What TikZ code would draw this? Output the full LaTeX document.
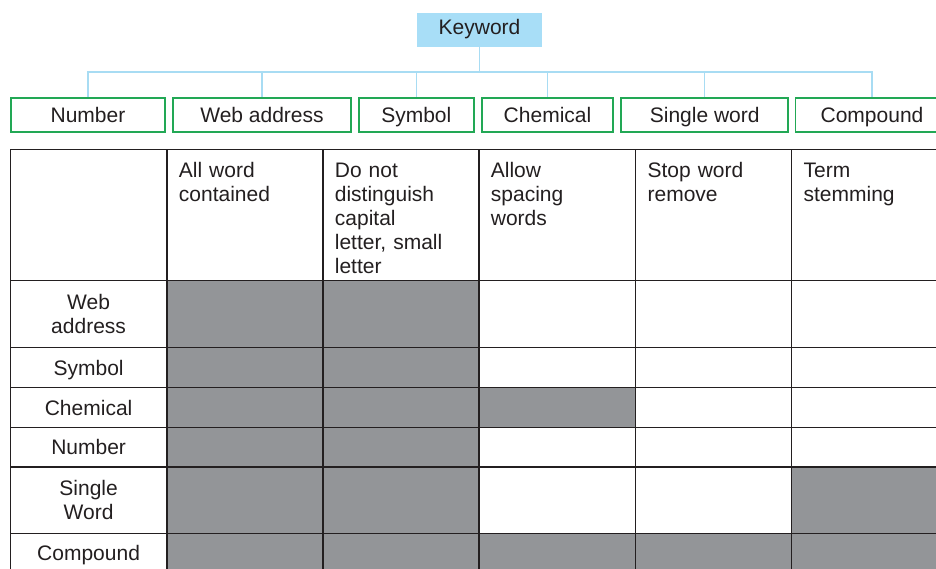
\documentclass[tikz,border=0pt]{standalone}
\usepackage{fontspec}
\setmainfont{Liberation Sans}
\definecolor{ink}{HTML}{231F20}
\definecolor{kwfill}{HTML}{A8DEF7}
\definecolor{linkblue}{HTML}{A8DCF3}
\definecolor{boxgreen}{HTML}{22A855}
\definecolor{cellgrey}{HTML}{939598}
\begin{document}
\begin{tikzpicture}[x=1pt,y=-1pt,
  txt/.style={font=\fontsize{21}{24}\selectfont, text=ink, inner sep=0pt},
  kwbox/.style={txt, fill=kwfill, minimum width=125pt, minimum height=33.7pt,
    text height=15pt, text depth=5pt},
  catbox/.style={txt, draw=boxgreen, line width=1.5pt, minimum height=33.6pt,
    text height=17pt, text depth=2pt},
  link/.style={draw=linkblue, line width=1.5pt},
  grid/.style={draw=ink, line width=1.3pt},
  shade/.style={fill=cellgrey},
  headtxt/.style={txt, anchor=north west, text width=140pt, align=left},
  rowtxt/.style={txt, align=center},
  rowone/.style={rowtxt, text height=15pt, text depth=0pt}
]
\useasboundingbox (0,0) rectangle (936,568);

% ---- category tree ----
\node[kwbox] (kw) at (479.5,29.85) {Keyword};

\node[catbox, minimum width=154pt] (b1) at (88,115)    {Number};
\node[catbox, minimum width=178pt] (b2) at (262,115)   {Web address};
\node[catbox, minimum width=115pt] (b3) at (416.3,115) {Symbol};
\node[catbox, minimum width=131pt] (b4) at (547.5,115) {Chemical};
\node[catbox, minimum width=167pt] (b5) at (704.7,115) {Single word};
\node[catbox, minimum width=153pt] (b6) at (872,115)   {Compound};

\coordinate (bus) at (479.5,72);
\draw[link] (kw.south) -- (bus);
\foreach \b in {b1,b2,b3,b4,b5,b6}
  \draw[link] (bus) -| (\b.north);

% ---- comparison table ----
% column edges and row edges
\def\cA{10.3}\def\cB{167}\def\cC{323}\def\cD{479}\def\cE{635.7}\def\cF{791.7}\def\cG{948}
\def\rA{149.3}\def\rB{280.7}\def\rC{347.7}\def\rD{387.7}\def\rE{427.3}\def\rF{467}\def\rG{533.3}\def\rH{573.3}

% shaded cells
\fill[shade] (\cB,\rB) rectangle (\cD,\rG);
\fill[shade] (\cD,\rD) rectangle (\cE,\rE);
\fill[shade] (\cF,\rF) rectangle (\cG,\rG);
\fill[shade] (\cB,\rG) rectangle (\cG,\rH);

% grid lines
\foreach \x in {\cA,\cB,\cC,\cD,\cE,\cF,\cG}
  \draw[grid] (\x,\rA) -- (\x,\rH);
\foreach \y in {\rA,\rB,\rC,\rD,\rE,\rF,\rG,\rH}
  \draw[grid] (\cA,\y) -- (\cG,\y);

% column headings
\node[headtxt] (h1) at (178.7,161.5) {\rule{0pt}{16pt}All word\\contained};
\node[headtxt] (h2) at (334.7,161.5) {\rule{0pt}{16pt}Do not\\distinguish\\capital\\letter, small\\letter};
\node[headtxt] (h3) at (490.7,161.5) {\rule{0pt}{16pt}Allow\\spacing\\words};
\node[headtxt] (h4) at (647.4,161.5) {\rule{0pt}{16pt}Stop word\\remove};
\node[headtxt] (h5) at (803.4,161.5) {\rule{0pt}{16pt}Term\\stemming};

% row headings
\node[rowtxt] (r1) at (88.6,314.2) {Web\\address};
\node[rowone] (r2) at (88.6,367.7) {Symbol};
\node[rowone] (r3) at (88.6,407.5) {Chemical};
\node[rowone] (r4) at (88.6,447.2) {Number};
\node[rowtxt] (r5) at (88.6,500.2) {Single\\Word};
\node[rowone] (r6) at (88.6,553.3) {Compound};
\end{tikzpicture}
\end{document}
